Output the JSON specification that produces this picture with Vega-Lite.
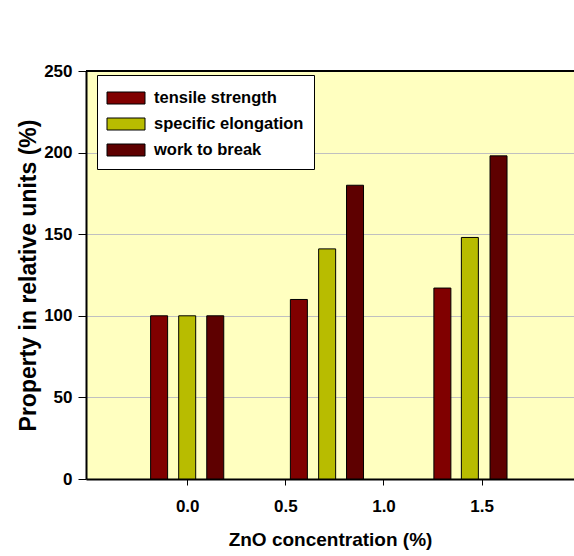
{
  "$schema": "https://vega.github.io/schema/vega-lite/v6.json",
  "width": 488,
  "height": 408,
  "autosize": {"type": "none"},
  "padding": {"left": 86, "top": 71, "right": 0, "bottom": 77},
  "background": "white",
  "view": {"fill": "#FFFFC0", "stroke": null},
  "config": {
    "font": "Liberation Sans",
    "axis": {
      "labelFont": "Liberation Sans",
      "labelFontWeight": "bold",
      "labelFontSize": 17,
      "labelColor": "black",
      "titleFont": "Liberation Sans",
      "titleFontWeight": "bold",
      "titleFontSize": 19,
      "titleColor": "black",
      "domainColor": "black",
      "domainWidth": 2,
      "tickColor": "black",
      "tickWidth": 1,
      "tickSize": 7
    }
  },
  "data": {
    "values": [
      {"x": -0.143, "property": "tensile strength", "value": 100},
      {"x": 0.0, "property": "specific elongation", "value": 100},
      {"x": 0.143, "property": "work to break", "value": 100},
      {"x": 0.569, "property": "tensile strength", "value": 110},
      {"x": 0.713, "property": "specific elongation", "value": 141},
      {"x": 0.855, "property": "work to break", "value": 180},
      {"x": 1.3, "property": "tensile strength", "value": 117},
      {"x": 1.44, "property": "specific elongation", "value": 148},
      {"x": 1.586, "property": "work to break", "value": 198}
    ]
  },
  "layer": [
    {
      "mark": {"type": "bar", "size": 17, "stroke": "black", "strokeWidth": 1},
      "encoding": {
        "x": {
          "field": "x",
          "type": "quantitative",
          "scale": {"domain": [-0.49, 1.945], "nice": false, "zero": false},
          "axis": {
            "title": "ZnO concentration (%)",
            "values": [0, 0.5, 1, 1.5],
            "format": ".1f",
            "grid": false,
            "labelPadding": 13,
            "titlePadding": 16,
            "tickSize": 6
          }
        },
        "y": {
          "field": "value",
          "type": "quantitative",
          "scale": {"domain": [0, 250], "nice": false},
          "axis": {
            "title": "Property in relative units (%)",
            "titleFontSize": 23,
            "values": [0, 50, 100, 150, 200, 250],
            "grid": true,
            "gridColor": "#C0C0C0",
            "gridWidth": 1,
            "tickSize": 8,
            "labelPadding": 6,
            "titlePadding": 3
          }
        },
        "color": {
          "field": "property",
          "type": "nominal",
          "scale": {
            "domain": ["tensile strength", "specific elongation", "work to break"],
            "range": ["#800000", "#B8BC00", "#5E0000"]
          },
          "legend": {
            "title": null,
            "orient": "none",
            "legendX": 11,
            "legendY": 4,
            "fillColor": "white",
            "strokeColor": "black",
            "padding": 10,
            "symbolType": "M-1.04,-0.48H2V0.48H-1.04Z",
            "symbolSize": 625,
            "symbolOffset": 0,
            "symbolStrokeColor": "black",
            "symbolStrokeWidth": 1,
            "symbolOpacity": 1,
            "labelFont": "Liberation Sans",
            "labelFontWeight": "bold",
            "labelFontSize": 16.5,
            "labelColor": "black",
            "labelOffset": 21,
            "rowPadding": 4
          }
        }
      }
    },
    {
      "mark": {"type": "rule", "color": "black", "strokeWidth": 2},
      "encoding": {"y": {"datum": 250}}
    }
  ]
}
